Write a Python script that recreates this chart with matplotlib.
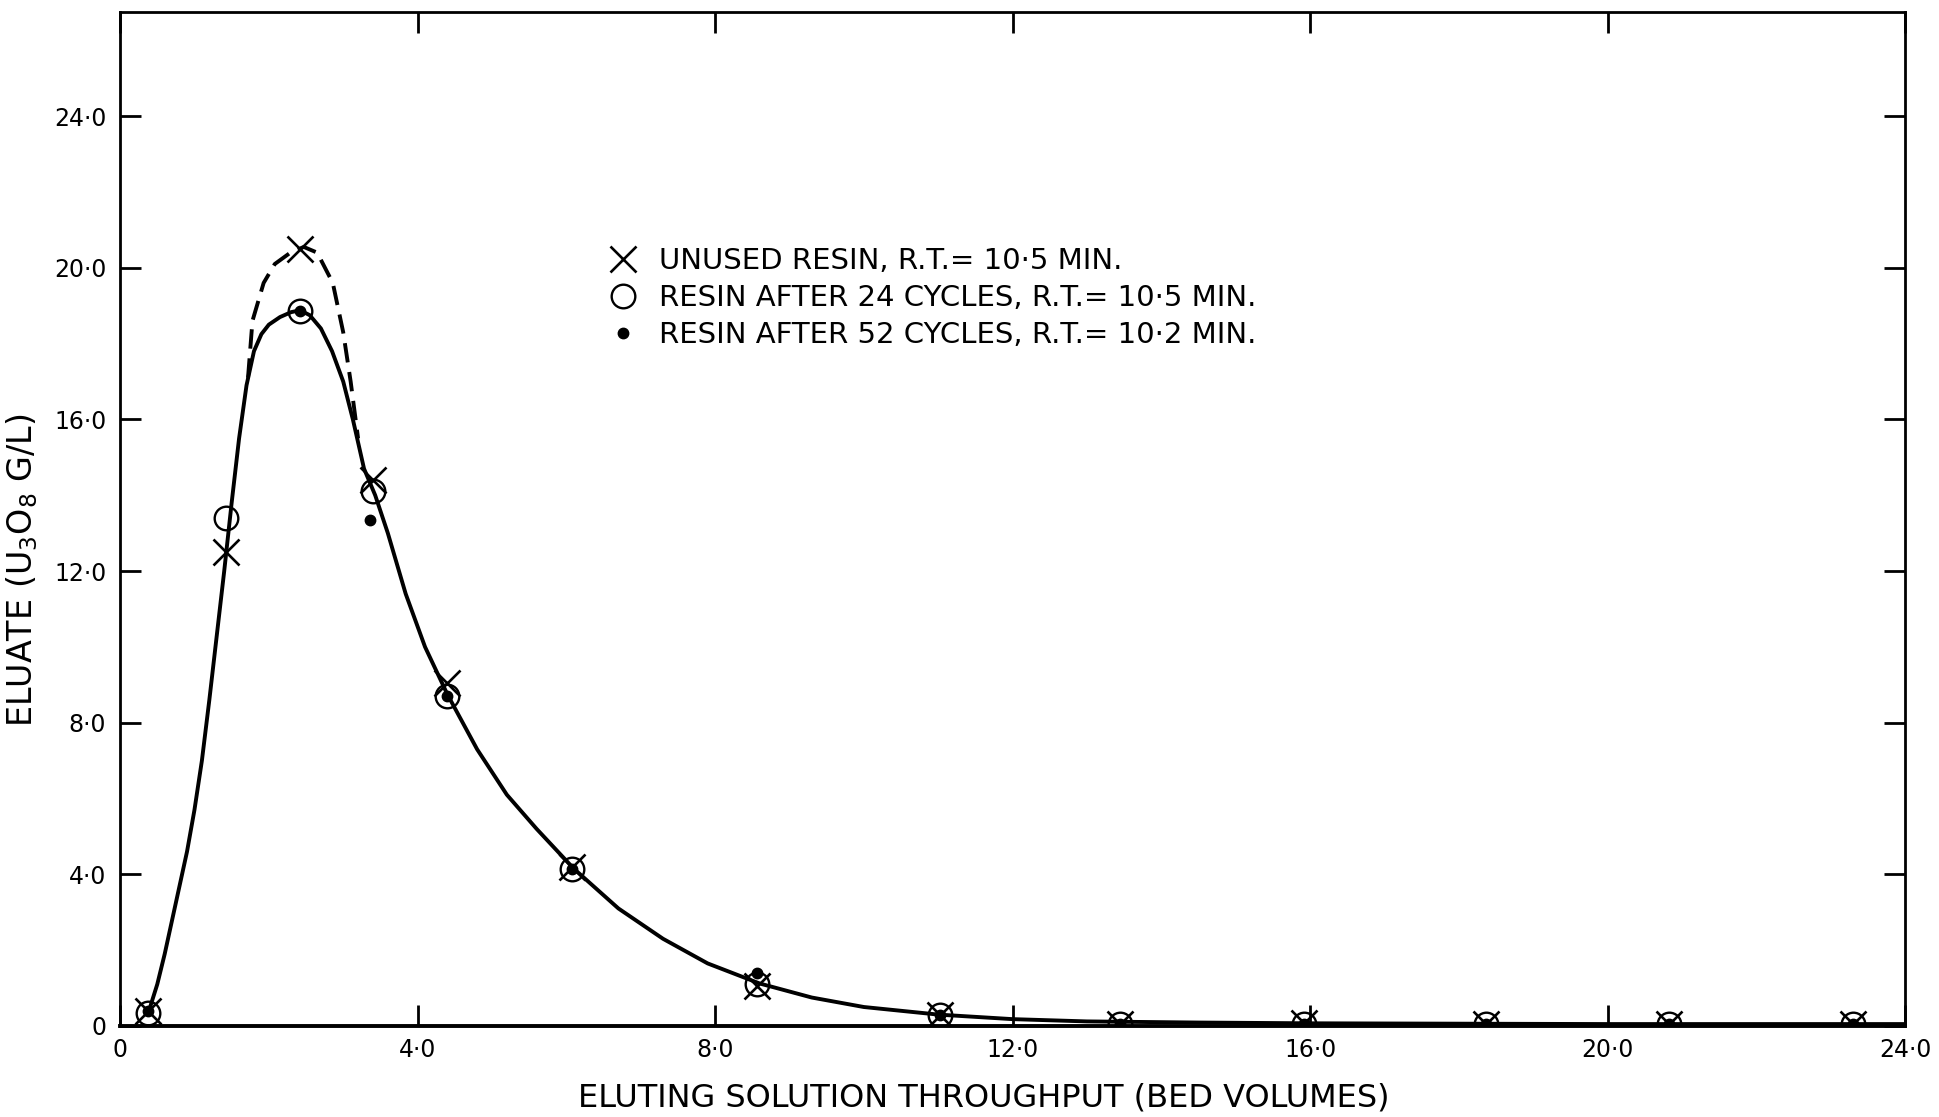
import matplotlib
matplotlib.use('Agg')
import matplotlib.pyplot as plt

# sample points (bed volumes) shared by the three resin runs
throughput = [0.38, 1.43, 2.42, 3.40, 4.40, 6.07, 8.57, 11.03, 13.44, 15.92, 18.36, 20.82, 23.30]
unused_resin = [0.40, 12.50, 20.50, 14.40, 9.05, 4.20, 1.05, 0.30, 0.05, 0.08, 0.05, 0.05, 0.05]
resin_24 = [0.35, 13.40, 18.85, 14.10, 8.70, 4.15, 1.10, 0.30, 0.05, 0.05, 0.05, 0.05, 0.05]

throughput_52 = [0.38, 2.42, 3.36, 4.40, 6.07, 8.57, 11.03, 13.44, 15.92, 18.36, 20.82, 23.30]
resin_52 = [0.40, 18.85, 13.35, 8.70, 4.15, 1.40, 0.30, 0.05, 0.05, 0.05, 0.05, 0.05]

# hand drawn elution curve
curve_x = [0.38, 0.5, 0.6, 0.7, 0.8, 0.9, 1.0, 1.1, 1.2, 1.3, 1.4, 1.5, 1.6, 1.7, 1.8,
           1.9, 2.0, 2.15, 2.3, 2.42, 2.55, 2.7, 2.85, 3.0, 3.13, 3.28, 3.43, 3.6, 3.84,
           4.1, 4.4, 4.8, 5.2, 5.6, 6.1, 6.7, 7.3, 7.9, 8.6, 9.3, 10.0, 11.0, 12.0, 13.0,
           14.5, 16.0, 18.0, 20.0, 22.0, 24.0]
curve_y = [0.35, 1.1, 1.9, 2.8, 3.7, 4.6, 5.7, 7.0, 8.6, 10.3, 12.0, 13.8, 15.5, 16.9, 17.8,
           18.25, 18.5, 18.7, 18.83, 18.88, 18.75, 18.4, 17.8, 17.0, 16.0, 14.7, 14.0, 13.0, 11.4,
           10.0, 8.75, 7.3, 6.1, 5.2, 4.15, 3.1, 2.3, 1.65, 1.12, 0.75, 0.5, 0.3, 0.18, 0.12,
           0.09, 0.07, 0.06, 0.05, 0.05, 0.05]

# dashed peak for the unused resin
peak_x = [1.72, 1.78, 1.93, 2.08, 2.29, 2.47, 2.65, 2.86, 3.0, 3.1, 3.2]
peak_y = [17.1, 18.6, 19.6, 20.1, 20.4, 20.55, 20.4, 19.6, 18.3, 17.0, 15.5]

ticks = [0, 4, 8, 12, 16, 20, 24]
tick_labels = ['0', '4·0', '8·0', '12·0', '16·0', '20·0', '24·0']

plt.rcParams['font.family'] = ['DejaVu Sans']

fig = plt.figure(figsize=(19.4, 11.17), dpi=100)
ax = fig.add_axes([0.0619, 0.0815, 0.9201, 0.9075])

ax.plot(curve_x, curve_y, color='black', lw=2.8, zorder=2)
ax.plot(peak_x, peak_y, color='black', lw=2.8, dashes=(5, 2.5), zorder=2)

ax.plot(throughput, unused_resin, ls='none', marker='x', ms=19, mew=1.9, color='black',
        label='UNUSED RESIN, R.T.= 10·5 MIN.', zorder=3)
ax.plot(throughput, resin_24, ls='none', marker='o', ms=17, mew=1.7, mfc='none', color='black',
        label='RESIN AFTER 24 CYCLES, R.T.= 10·5 MIN.', zorder=3)
ax.plot(throughput_52, resin_52, ls='none', marker='o', ms=7.5, color='black',
        label='RESIN AFTER 52 CYCLES, R.T.= 10·2 MIN.', zorder=3)

ax.set_xlim(0, 24)
ax.set_ylim(0, 26.74)

ax.set_xticks(ticks)
ax.set_xticklabels(tick_labels)
ax.set_yticks(ticks)
ax.set_yticklabels(tick_labels)
ax.tick_params(direction='in', length=15, width=2, labelsize=17, top=True, right=True,
               labeltop=False, labelright=False)
ax.tick_params(axis='x', pad=9)
ax.tick_params(axis='y', pad=10)

for s in ax.spines.values():
    s.set_linewidth(2)
ax.spines['bottom'].set_linewidth(2.8)

ax.set_xlabel('ELUTING SOLUTION THROUGHPUT (BED VOLUMES)', fontsize=23)
ax.xaxis.set_label_coords(0.484, -0.056)
ax.set_ylabel('ELUATE (U$_3$O$_8$ G/L)', fontsize=24)
ax.yaxis.set_label_coords(-0.045, 0.45)

ax.legend(loc='upper left', bbox_to_anchor=(0.2745, 0.768), frameon=False, fontsize=21,
          handlelength=0.9, handletextpad=0.79, labelspacing=0.30, borderpad=0,
          borderaxespad=0)

fig.savefig('out.png', dpi=100)
